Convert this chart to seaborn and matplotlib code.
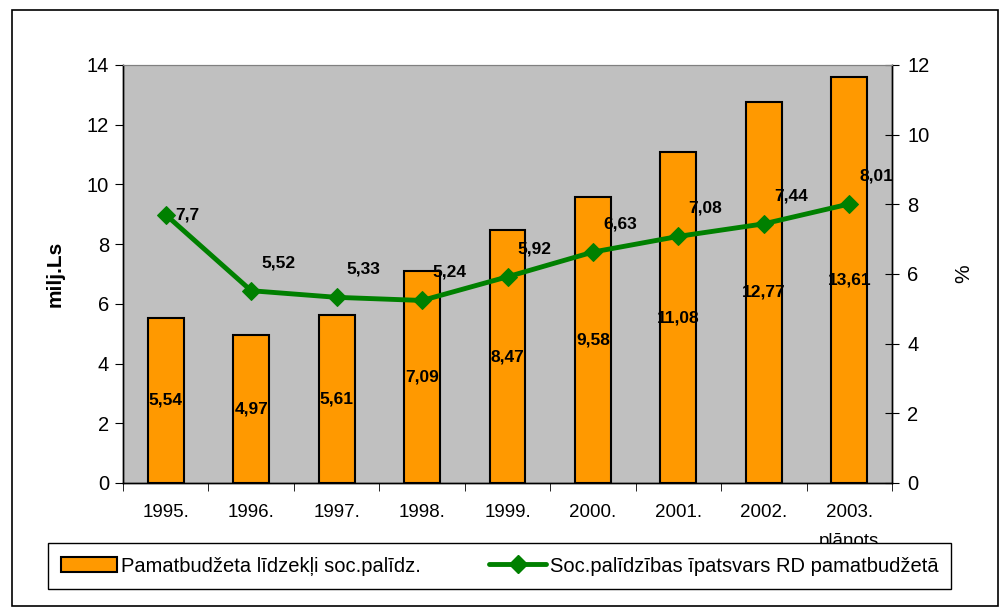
import numpy as np
import pandas as pd
import matplotlib
matplotlib.use("Agg")
import matplotlib.pyplot as plt
import seaborn as sns
from matplotlib.patches import Rectangle, Patch
from matplotlib.lines import Line2D

# Data
years = ["1995.", "1996.", "1997.", "1998.", "1999.", "2000.", "2001.", "2002.", "2003.\nplānots"]
budget = [5.54, 4.97, 5.61, 7.09, 8.47, 9.58, 11.08, 12.77, 13.61]
share = [7.7, 5.52, 5.33, 5.24, 5.92, 6.63, 7.08, 7.44, 8.01]

bar_label = "Pamatbudžeta līdzekļi soc.palīdz."
line_label = "Soc.palīdzības īpatsvars RD pamatbudžetā"

sns.set_style("white")
plt.rcParams['font.family'] = ['Liberation Sans', 'DejaVu Sans']
plt.rcParams['text.color'] = 'black'
plt.rcParams['axes.labelcolor'] = 'black'
plt.rcParams['xtick.color'] = 'black'
plt.rcParams['ytick.color'] = 'black'

ORANGE = "#FF9900"
GREEN = "#008000"

df = pd.DataFrame({"year": years, "budget": budget, "share": share})

fig = plt.figure(figsize=(10.01, 6.08), dpi=100)
ax = fig.add_axes([0.1229, 0.2056, 0.7682, 0.6875])
ax.set_facecolor("#C0C0C0")

sns.barplot(data=df, x="year", y="budget", color=ORANGE, edgecolor="black",
            linewidth=1.5, width=0.42, saturation=1, ax=ax)
ax.set_ylim(0, 14)
ax.set_xlim(-0.5, len(years) - 0.5)
ax.set_yticks(np.arange(0, 15, 2))
ax.tick_params(axis="y", direction="out", length=6, labelsize=14.5, left=True, pad=4)
ax.tick_params(axis="x", which="major", length=0, labelsize=13.5, pad=15)
ax.set_xticks(np.arange(len(years) + 1) - 0.5, minor=True)
ax.tick_params(axis="x", which="minor", direction="out", length=6, bottom=True)
ax.set_xlabel("")
ax.set_ylabel("milj.Ls", fontsize=15, fontweight="bold", labelpad=16)

for lab in ax.get_xticklabels():
    lab.set_verticalalignment("top")
    lab.set_linespacing(1.95)

# bar value labels
for i, v in enumerate(budget):
    ax.text(i, v / 2, f"{v:.2f}".replace(".", ","), ha="center", va="center",
            fontsize=12.5, fontweight="bold")

# share line on right axis
ax2 = ax.twinx()
x_pos = np.arange(len(years))
sns.lineplot(x=x_pos, y=share, color=GREEN, linewidth=3.5, marker="D",
             markersize=9, markeredgecolor=GREEN, ax=ax2)
ax2.set_ylim(0, 12)
ax2.set_yticks(np.arange(0, 13, 2))
ax2.tick_params(axis="y", direction="inout", length=10, labelsize=14.5, right=True, pad=6)
ax2.set_ylabel("%", fontsize=15, labelpad=18)

for i, v in enumerate(share):
    s = f"{v:g}".replace(".", ",")
    ax2.annotate(s, (i, v), xytext=(10, 28 if i else 0), textcoords="offset pixels",
                 ha="left", va="center", fontsize=12.5, fontweight="bold")

for a in (ax, ax2):
    for side in ("left", "right", "bottom"):
        a.spines[side].set_color("black")
        a.spines[side].set_linewidth(1.0)
    a.spines["top"].set_color("#808080")

# legend
handles = [
    Patch(facecolor=ORANGE, edgecolor="black", linewidth=1.5, label=bar_label),
    Line2D([0], [0], color=GREEN, linewidth=3.5, marker="D", markersize=9, label=line_label),
]
leg = fig.legend(handles=handles, loc="center", bbox_to_anchor=(0.499, 0.069),
                 ncol=2, fontsize=14.5, frameon=True, fancybox=False, shadow=False,
                 borderpad=0.65, borderaxespad=0, columnspacing=3.4, handlelength=2.8,
                 handletextpad=0.2)
leg.get_frame().set_edgecolor("black")
leg.get_frame().set_linewidth(1.0)
leg.get_frame().set_alpha(1)
leg.set_zorder(10)

# figure border
fig.patches.append(Rectangle((0.012, 0.003), 0.985, 0.98, transform=fig.transFigure,
                             fill=False, edgecolor="black", linewidth=1.2))

fig.savefig("out.png", dpi=100)
